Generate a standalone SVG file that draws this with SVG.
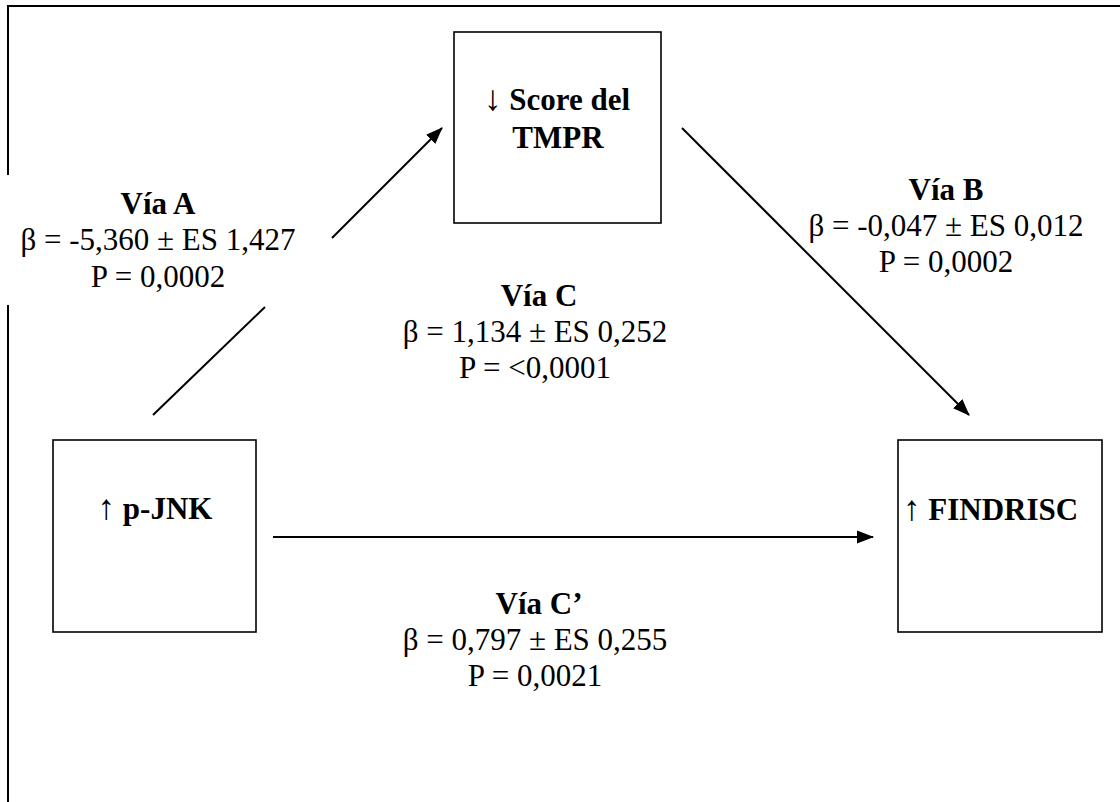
<svg xmlns="http://www.w3.org/2000/svg" width="1120" height="802" viewBox="0 0 1120 802">
<style>
.box{fill:#fff;stroke:#000;stroke-width:1.6}
.frame{fill:none;stroke:#000;stroke-width:2}
.conn{fill:none;stroke:#000;stroke-width:2}
.t{font-family:"Liberation Serif","Times New Roman",serif;font-size:31px;fill:#000;text-anchor:middle}
.b{font-weight:bold}
.n{font-weight:normal;font-size:35px}
</style>
<defs>
<marker id="ah" markerUnits="userSpaceOnUse" markerWidth="18" markerHeight="16" refX="16" refY="8" orient="auto">
<path d="M0,1.5 L17,8 L0,14.5 Z" fill="#000"/>
</marker>
</defs>
<path class="frame" d="M8,175 L8,6 L1120,6 M8,305 L8,802"/>
<g id="connectors">
<path class="conn" d="M153,415 L265,307 M332,238 L442,128" marker-end="url(#ah)"/>
<path class="conn" d="M682,128 L969,415" marker-end="url(#ah)"/>
<path class="conn" d="M273,537 L873,537" marker-end="url(#ah)"/>
</g>
<g id="node-tmpr">
<rect class="box" x="454" y="32" width="207" height="191"/>
<text class="t b" x="557" y="110"><tspan class="n">↓</tspan> Score del</text>
<text class="t b" x="558" y="148">TMPR</text>
</g>
<g id="node-pjnk">
<rect class="box" x="53" y="440" width="203" height="192"/>
<text class="t b" x="155" y="519"><tspan class="n">↑</tspan> p-JNK</text>
</g>
<g id="node-findrisc">
<rect class="box" x="898" y="440" width="204" height="192"/>
<text class="t b" x="903" y="520" style="text-anchor:start"><tspan class="n">↑</tspan> FINDRISC</text>
</g>
<g id="label-a">
<text class="t b" x="158" y="214">Vía A</text>
<text class="t" x="158" y="250">β = -5,360 ± ES 1,427</text>
<text class="t" x="158" y="287">P = 0,0002</text>
</g>
<g id="label-b">
<text class="t b" x="946" y="200">Vía B</text>
<text class="t" x="946" y="236">β = -0,047 ± ES 0,012</text>
<text class="t" x="946" y="272">P = 0,0002</text>
</g>
<g id="label-c">
<text class="t b" x="539" y="306">Vía C</text>
<text class="t" x="535" y="342">β = 1,134 ± ES 0,252</text>
<text class="t" x="535" y="378">P = &lt;0,0001</text>
</g>
<g id="label-c2">
<text class="t b" x="539" y="614">Vía C’</text>
<text class="t" x="535" y="650">β = 0,797 ± ES 0,255</text>
<text class="t" x="535" y="686">P = 0,0021</text>
</g>
</svg>
